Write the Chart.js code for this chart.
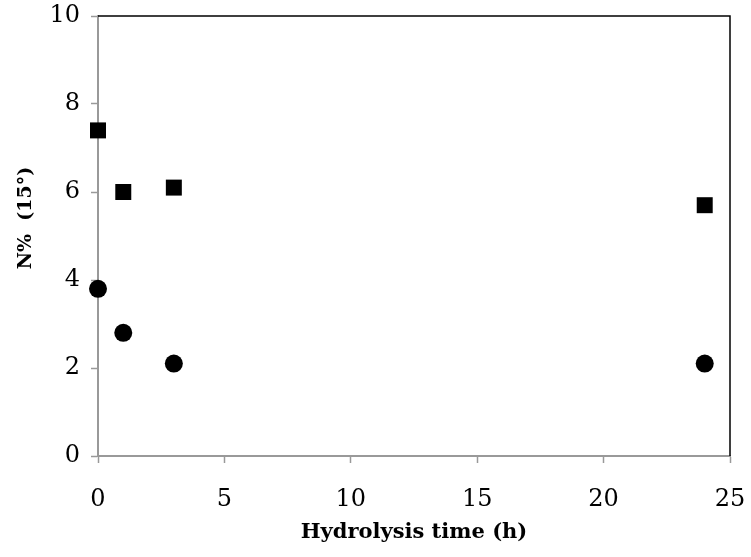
<!DOCTYPE html>
<html>
<head>
<meta charset="utf-8">
<script src="https://cdn.jsdelivr.net/npm/chart.js@4/dist/chart.umd.min.js"></script>
<style>
  html, body { margin: 0; padding: 0; background: #fff; }
  #wrap { width: 751px; height: 557px; }
</style>
</head>
<body>
<div id="wrap"><canvas id="chart" width="751" height="557"></canvas></div>
<script>
// hydrolysis times (h)
const times = [0, 1, 3, 24];
const squareValues = [7.4, 6.0, 6.1, 5.7];
const circleValues = [3.8, 2.8, 2.1, 2.1];
const xTicks = [0, 5, 10, 15, 20, 25];
const yTicks = [0, 2, 4, 6, 8, 10];
const xTitle = 'Hydrolysis time (h)';
const yTitle = 'N%  (15°)';

const serif = '"DejaVu Serif", serif';

function toPoints(values) {
    return times.map((t, i) => ({ x: t, y: values[i] }));
}

// black frame on top/right plus the rotated y title
const framePlugin = {
    id: 'frame',
    afterDraw(chart) {
        const { ctx, chartArea } = chart;
        ctx.save();
        ctx.strokeStyle = '#000';
        ctx.lineWidth = 1.5;
        ctx.beginPath();
        ctx.moveTo(chartArea.left, chartArea.top);
        ctx.lineTo(chartArea.right, chartArea.top);
        ctx.lineTo(chartArea.right, chartArea.bottom);
        ctx.stroke();

        ctx.translate(26, 218);
        ctx.rotate(-Math.PI / 2);
        ctx.fillStyle = '#000';
        ctx.font = 'bold 19px ' + serif;
        ctx.textAlign = 'center';
        ctx.textBaseline = 'middle';
        ctx.fillText(yTitle, 0, 0);
        ctx.restore();
    }
};

new Chart(document.getElementById('chart'), {
    type: 'scatter',
    data: {
        datasets: [
            {
                label: 'square',
                data: toPoints(squareValues),
                pointStyle: 'rect',
                pointRadius: 11.3,
                backgroundColor: '#000',
                borderColor: '#000',
                borderWidth: 0,
                clip: false
            },
            {
                label: 'circle',
                data: toPoints(circleValues),
                pointStyle: 'circle',
                pointRadius: 9,
                backgroundColor: '#000',
                borderColor: '#000',
                borderWidth: 0,
                clip: false
            }
        ]
    },
    options: {
        responsive: false,
        animation: false,
        layout: { padding: { top: 16, right: 21, left: 0, bottom: 0 } },
        plugins: {
            legend: { display: false },
            tooltip: { enabled: false }
        },
        scales: {
            x: {
                type: 'linear',
                min: 0,
                max: 25,
                afterBuildTicks: (scale) => { scale.ticks = xTicks.map(v => ({ value: v })); },
                afterFit: (scale) => {
                    scale.height = 101;
                    scale.paddingLeft = 0;
                    scale.paddingRight = 0;
                },
                border: { color: '#999', width: 2 },
                grid: { drawOnChartArea: false, tickLength: 7, color: '#999', tickWidth: 1.5 },
                ticks: { color: '#000', font: { family: serif, size: 24 }, padding: 22, maxRotation: 0 },
                title: {
                    display: true,
                    text: xTitle,
                    color: '#000',
                    font: { family: serif, size: 21, weight: 'bold' },
                    padding: { top: 0, bottom: 12 }
                }
            },
            y: {
                type: 'linear',
                min: 0,
                max: 10,
                afterBuildTicks: (scale) => { scale.ticks = yTicks.map(v => ({ value: v })); },
                afterFit: (scale) => {
                    scale.width = 98;
                    scale.paddingTop = 0;
                    scale.paddingBottom = 0;
                },
                border: { color: '#999', width: 2 },
                grid: { drawOnChartArea: false, tickLength: 7, color: '#999', tickWidth: 1.5 },
                ticks: { color: '#000', font: { family: serif, size: 24 }, padding: 11 }
            }
        }
    },
    plugins: [framePlugin]
});
</script>
</body>
</html>
